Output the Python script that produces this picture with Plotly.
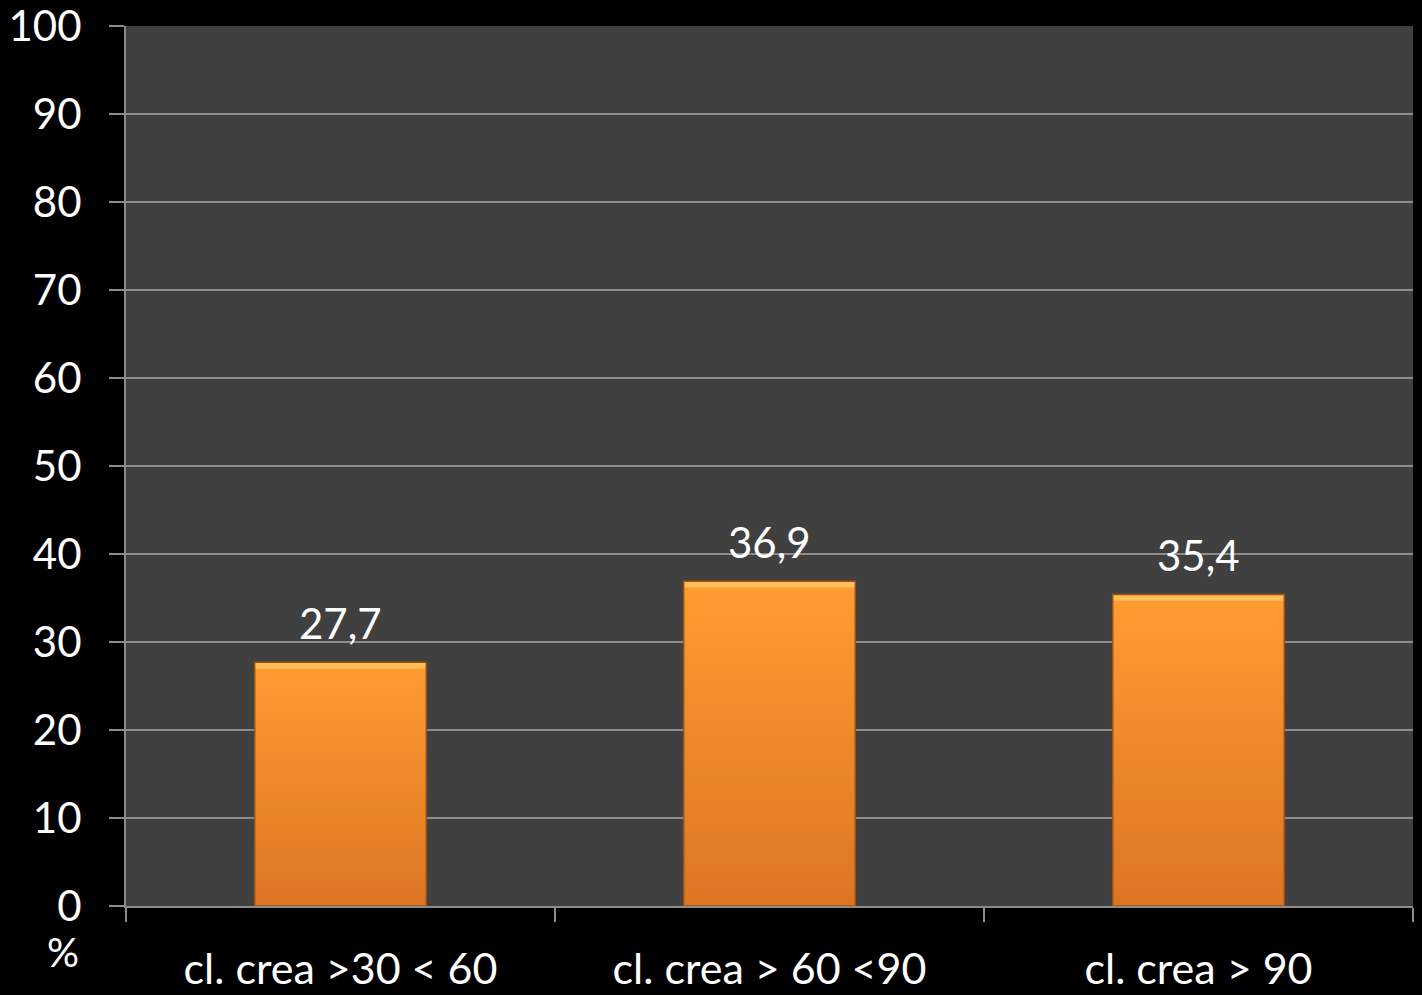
import plotly.graph_objects as go

categories = ["cl. crea >30 < 60", "cl. crea > 60 <90", "cl. crea > 90"]
values = [27.7, 36.9, 35.4]
y_ticks = [0, 10, 20, 30, 40, 50, 60, 70, 80, 90, 100]

FONT = "Lato, Calibri, Carlito, sans-serif"
BAR_W = 0.4


def blend(c1, c2, t):
    a = [int(c1[i:i + 2], 16) for i in (1, 3, 5)]
    b = [int(c2[i:i + 2], 16) for i in (1, 3, 5)]
    return "rgb({},{},{})".format(*[round(a[k] + (b[k] - a[k]) * t) for k in range(3)])


fig = go.Figure()

# vertical gradient: bars are split into stacked slices that overlap slightly
N = 40
bottom_col, top_col = "#DC7624", "#FF9C32"
for i in range(N):
    bases = [v * i / N for v in values]
    heights = [min(v, v * (i + 2) / N) - b for v, b in zip(values, bases)]
    fig.add_trace(go.Bar(
        x=categories,
        y=heights,
        base=bases,
        width=BAR_W,
        marker=dict(color=blend(bottom_col, top_col, i / (N - 1)), line=dict(width=0)),
        hoverinfo="skip",
        showlegend=False,
    ))

# light bevel along the top edge
bevel = 0.7
fig.add_trace(go.Bar(
    x=categories,
    y=[bevel] * len(values),
    base=[v - bevel for v in values],
    width=BAR_W,
    marker=dict(color="#FFBE5A", line=dict(width=0)),
    hoverinfo="skip",
    showlegend=False,
))

# outline of each bar
fig.add_trace(go.Bar(
    x=categories,
    y=values,
    width=BAR_W,
    marker=dict(color="rgba(0,0,0,0)", line=dict(color="#9E500F", width=1.5)),
    hoverinfo="skip",
    showlegend=False,
))

# value labels above the bars
for c, v in zip(categories, values):
    fig.add_annotation(
        x=c, y=v,
        text=f"{v:.1f}".replace(".", ","),
        showarrow=False,
        yanchor="bottom",
        yshift=12,
        font=dict(family=FONT, size=42, color="white"),
    )

fig.update_layout(
    width=1422,
    height=995,
    margin=dict(l=126, r=9, t=26, b=89),
    paper_bgcolor="black",
    plot_bgcolor="#404040",
    barmode="overlay",
    font=dict(family=FONT, color="white", size=42),
    xaxis=dict(
        type="category",
        automargin=False,
        tickson="boundaries",
        ticks="outside",
        ticklen=14,
        tickwidth=2,
        tickcolor="#8C8C8C",
        showline=True,
        linecolor="#8C8C8C",
        linewidth=2,
        showgrid=False,
        tickfont=dict(family=FONT, size=43, color="white"),
        ticklabelstandoff=24,
    ),
    yaxis=dict(
        range=[0, 100],
        automargin=False,
        tickvals=y_ticks,
        ticks="outside",
        ticklen=15,
        tickwidth=2,
        tickcolor="#8C8C8C",
        showline=True,
        linecolor="#8C8C8C",
        linewidth=2,
        showgrid=True,
        gridcolor="#8C8C8C",
        gridwidth=1.5,
        zeroline=False,
        tickfont=dict(family=FONT, size=42, color="white"),
        ticklabelstandoff=19,
        ticklabeloverflow="allow",
    ),
)

fig.add_annotation(
    text="%",
    xref="paper", yref="paper",
    x=-0.049, y=-0.052,
    xanchor="center", yanchor="middle",
    showarrow=False,
    font=dict(family=FONT, size=40, color="white"),
)

fig.write_html("out.html")
